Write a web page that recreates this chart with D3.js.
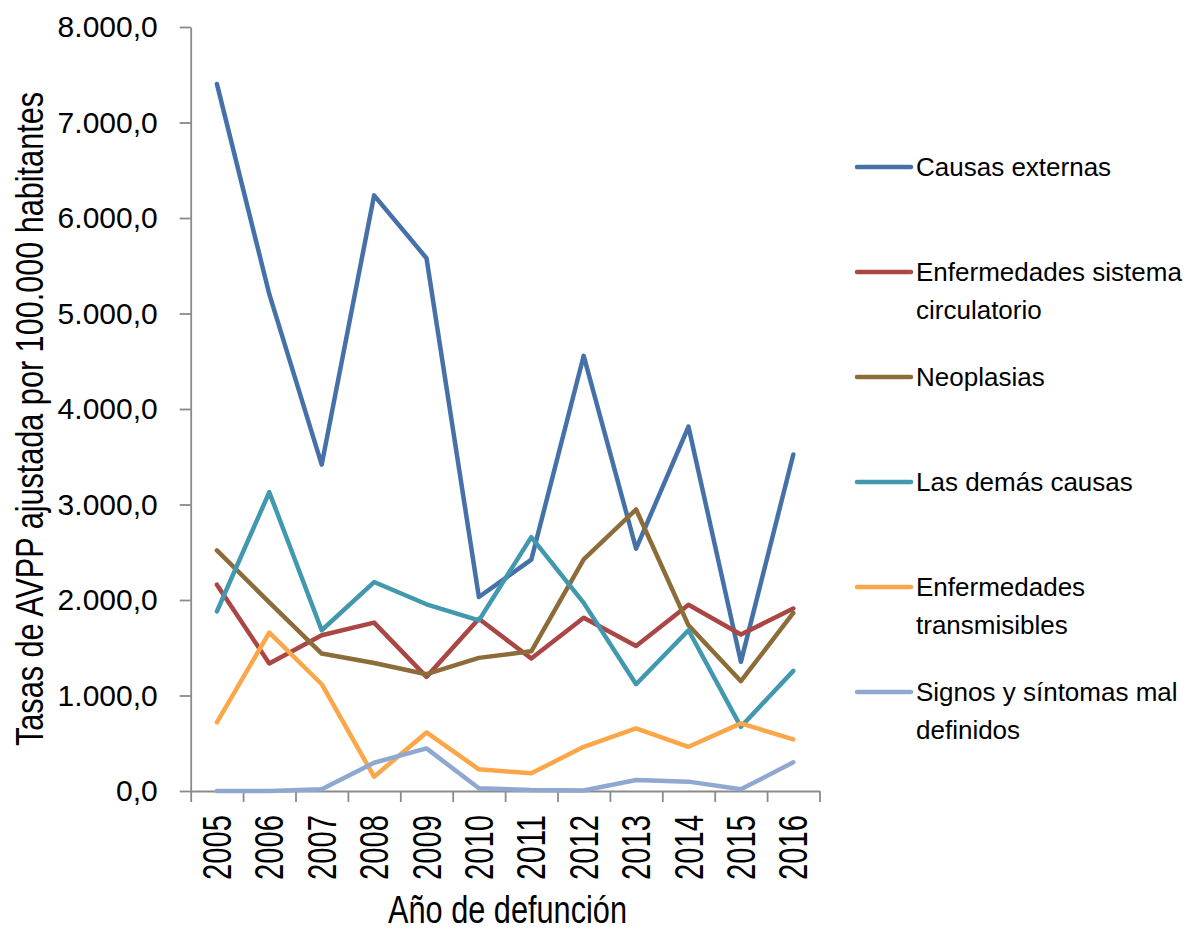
<!DOCTYPE html>
<html>
<head>
<meta charset="utf-8">
<script src="https://cdn.jsdelivr.net/npm/d3@7"></script>
<style>
  body { margin: 0; background: #fff; }
  text { font-family: "Liberation Sans", Arial, sans-serif; fill: #000; }
</style>
</head>
<body>
<div class="chart"></div>
<script>
// Data
var years = ["2005","2006","2007","2008","2009","2010","2011","2012","2013","2014","2015","2016"];
var seriesNames = ["Causas externas", "Enfermedades sistema circulatorio", "Neoplasias",
  "Las demás causas", "Enfermedades transmisibles", "Signos y síntomas mal definidos"];
var legendLines = [["Causas externas"], ["Enfermedades sistema", "circulatorio"], ["Neoplasias"],
  ["Las demás causas"], ["Enfermedades", "transmisibles"], ["Signos y síntomas mal", "definidos"]];
var colors = ["#4570a8", "#aa4643", "#8c6d39", "#4198af", "#fca64a", "#8fa8d0"];

var causasExternas = [7404, 5202, 3418, 6237, 5579, 2031, 2422, 4557, 2537, 3815, 1352, 3523];
var circulatorio   = [2160, 1335, 1631, 1763, 1195, 1803, 1387, 1815, 1519, 1951, 1638, 1910];
var neoplasias     = [2519, 1975, 1439, 1341, 1223, 1394, 1463, 2425, 2948, 1735, 1150, 1864];
var demasCausas    = [1881, 3129, 1683, 2188, 1955, 1787, 2658, 1970, 1118, 1683,  672, 1258];
var transmisibles  = [ 718, 1659, 1118,  150,  613,  227,  185,  463,  655,  463,  708,  540];
var signos         = [   0,    0,   18,  296,  446,   28,   10,    5,  115,   98,   18,  300];

var yTicks = [0, 1000, 2000, 3000, 4000, 5000, 6000, 7000, 8000];
var yTitle = "Tasas de AVPP ajustada por 100.000 habitantes";
var xTitle = "Año de defunción";

var allSeries = [causasExternas, circulatorio, neoplasias, demasCausas, transmisibles, signos];

var svgWidth = 1190;
var svgHeight = 931;
var plot = {left: 190.7, right: 819.5, top: 27, bottom: 791};

var svg = d3.select(".chart")
  .append("svg")
  .attr("width", svgWidth)
  .attr("height", svgHeight);

var esLocale = d3.formatLocale({decimal: ",", thousands: ".", grouping: [3], currency: ["", ""]});
var fmt = esLocale.format(",.1f");

// scales
var xBand = d3.scaleBand().domain(years).range([plot.left, plot.right]).padding(0);
var xEdge = d3.scaleLinear().domain([0, years.length]).range([plot.left, plot.right]);
var yScale = d3.scaleLinear().domain([0, 8000]).range([plot.bottom, plot.top]);

// y axis
var yAxisG = svg.append("g")
  .attr("transform", `translate(${plot.left}, 0)`)
  .call(d3.axisLeft(yScale).tickValues(yTicks).tickSize(11).tickSizeOuter(0).tickPadding(22).tickFormat(fmt));
yAxisG.selectAll("text").attr("font-size", 30).attr("font-family", "Liberation Sans, Arial").attr("fill", "#000");

// x axis: boundary ticks
var xAxisG = svg.append("g")
  .attr("transform", `translate(0, ${plot.bottom})`)
  .call(d3.axisBottom(xEdge).tickValues(d3.range(years.length + 1)).tickSize(11).tickSizeOuter(0).tickFormat(""));

svg.selectAll(".domain, .tick line")
  .attr("stroke", "#8a8a8a")
  .attr("stroke-width", 1.8);

// year labels (rotated)
svg.append("g").selectAll("text")
  .data(years)
  .enter()
  .append("text")
  .attr("transform", d => `translate(${xBand(d) + xBand.bandwidth() / 2 + 14}, 815) rotate(-90)`)
  .attr("text-anchor", "end")
  .attr("font-size", 40)
  .attr("textLength", 65)
  .attr("lengthAdjust", "spacingAndGlyphs")
  .text(d => d);

// lines
var line = d3.line()
  .x((d, i) => xBand(years[i]) + xBand.bandwidth() / 2)
  .y(d => yScale(d));

svg.append("g").selectAll("path")
  .data(allSeries)
  .enter()
  .append("path")
  .attr("d", d => line(d))
  .attr("fill", "none")
  .attr("stroke", (d, i) => colors[i])
  .attr("stroke-width", 4.5)
  .attr("stroke-linejoin", "round")
  .attr("stroke-linecap", "round");

// axis titles
svg.append("text")
  .attr("transform", `translate(43, 419) rotate(-90)`)
  .attr("text-anchor", "middle")
  .attr("font-size", 38)
  .attr("textLength", 654)
  .attr("lengthAdjust", "spacingAndGlyphs")
  .text(yTitle);

svg.append("text")
  .attr("x", 507.5)
  .attr("y", 923)
  .attr("text-anchor", "middle")
  .attr("font-size", 38)
  .attr("textLength", 239)
  .attr("lengthAdjust", "spacingAndGlyphs")
  .text(xTitle);

// legend
var legend = svg.append("g").selectAll("g")
  .data(seriesNames)
  .enter()
  .append("g")
  .attr("transform", (d, i) => `translate(857, ${167 + i * 105})`);

legend.append("line")
  .attr("x1", 0).attr("x2", 54)
  .attr("y1", 0).attr("y2", 0)
  .attr("stroke", (d, i) => colors[i])
  .attr("stroke-width", 4.5)
  .attr("stroke-linecap", "round");

legend.each(function(d, i) {
  var t = d3.select(this).append("text")
    .attr("x", 59)
    .attr("font-size", 26);
  legendLines[i].forEach(function(l, j) {
    t.append("tspan")
      .attr("x", 59)
      .attr("y", j * 38)
      .attr("dy", "0.36em")
      .text(l);
  });
});
</script>
</body>
</html>
